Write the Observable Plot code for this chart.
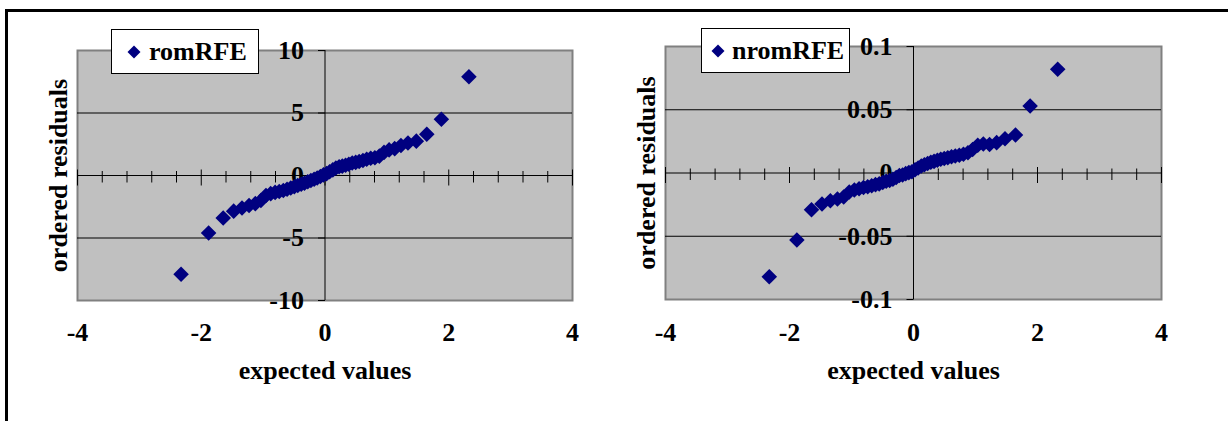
<!DOCTYPE html>
<html><head><meta charset="utf-8">
<script src="https://cdn.jsdelivr.net/npm/d3@7"></script>
<script src="https://cdn.jsdelivr.net/npm/@observablehq/plot@0.6"></script>
<style>
html,body{margin:0;padding:0;background:#fff;overflow:hidden;}
#wrap{position:relative;width:1228px;height:421px;overflow:hidden;background:#fff;}
#border{position:absolute;left:5px;top:9px;width:1400px;height:600px;border-left:3px solid #000;border-top:3px solid #000;}
.panel{position:absolute;top:0;}
.legend{position:absolute;background:#fff;border:1px solid #000;font:bold 26px "Liberation Serif","Times New Roman",serif;color:#000;box-sizing:border-box;}
.legend svg{position:absolute;}
.legend span{position:absolute;top:0;line-height:44px;white-space:nowrap;}
</style></head>
<body>
<div id="wrap">
  <div id="border"></div>
  <div id="left" class="panel" style="left:0px"></div>
  <div id="right" class="panel" style="left:614px"></div>
  <div class="legend" style="left:111px;top:29px;width:148px;height:45px">
    <svg width="14" height="14" style="left:15px;top:15px"><polygon points="7,0.5 13.5,7 7,13.5 0.5,7" fill="#000080"/></svg>
    <span style="left:37px">romRFE</span>
  </div>
  <div class="legend" style="left:701px;top:28px;width:149px;height:45px">
    <svg width="14" height="14" style="left:9px;top:15px"><polygon points="7,0.5 13.5,7 7,13.5 0.5,7" fill="#000080"/></svg>
    <span style="left:30px">nromRFE</span>
  </div>
</div>
<script>
// expected normal quantiles (x)
const expected = [-2.326,-1.881,-1.645,-1.476,-1.341,-1.227,-1.126,-1.036,-0.954,-0.878,-0.806,-0.739,-0.674,-0.613,-0.553,-0.496,-0.440,-0.385,-0.332,-0.279,-0.228,-0.176,-0.126,-0.075,-0.025,0.025,0.075,0.126,0.176,0.228,0.279,0.332,0.385,0.440,0.496,0.553,0.613,0.674,0.739,0.806,0.878,0.954,1.036,1.126,1.227,1.341,1.476,1.645,1.881,2.326];
// ordered residuals, romRFE
const romRFE = [-7.9,-4.6,-3.4,-2.85,-2.6,-2.4,-2.25,-2.0,-1.6,-1.45,-1.35,-1.28,-1.2,-1.1,-1.0,-0.9,-0.8,-0.7,-0.62,-0.5,-0.4,-0.3,-0.2,-0.08,0.05,0.15,0.3,0.45,0.6,0.7,0.75,0.82,0.9,1.0,1.05,1.12,1.2,1.3,1.38,1.42,1.55,1.85,2.05,2.15,2.4,2.6,2.75,3.3,4.5,7.9];
// ordered residuals, nromRFE
const nromRFE = [-0.082,-0.053,-0.029,-0.0245,-0.022,-0.0205,-0.019,-0.015,-0.0135,-0.0125,-0.0115,-0.0108,-0.010,-0.0092,-0.0086,-0.0075,-0.0065,-0.006,-0.005,-0.0035,-0.002,-0.0015,-0.0005,0.0003,0.001,0.0025,0.004,0.0055,0.0065,0.0075,0.0085,0.0092,0.010,0.0108,0.0115,0.012,0.0128,0.0135,0.014,0.0148,0.016,0.0185,0.022,0.023,0.0225,0.024,0.027,0.030,0.053,0.082];

const xMajorTicks = [-4, -2, 0, 2, 4];
const xMinorTicks = [-3.6, -3.2, -2.8, -2.4, -1.6, -1.2, -0.8, -0.4, 0.4, 0.8, 1.2, 1.6, 2.4, 2.8, 3.2, 3.6];
const yTicksLeft = [-10, -5, 0, 5, 10];
const yGridLeft = [-5, 5];
const yTicksRight = [-0.1, -0.05, 0, 0.05, 0.1];
const yGridRight = [-0.05, 0.05];

const navy = "#000080";
const sym = (x1, y1, x2, y2) => ({draw(ctx) { ctx.moveTo(x1, y1); ctx.lineTo(x2, y2); }});
const yTickSym = sym(-7, 0, 0, 0);
const xMinorSym = sym(0, -4.5, 0, 7);
const xMajorSym = sym(0, -6, 0, 10);

function panel({values, yTicks, yGrid, ml, mr, mt, mb, bottomDy}) {
  const pts = expected.map((e, i) => ({e, v: values[i]}));
  return Plot.plot({
    width: 614, height: 421,
    marginLeft: ml, marginRight: mr, marginTop: mt, marginBottom: mb,
    x: {domain: [xMajorTicks[0], xMajorTicks[xMajorTicks.length - 1]], axis: null},
    y: {domain: [yTicks[0], yTicks[yTicks.length - 1]], axis: null},
    style: {fontFamily: '"Liberation Serif","Times New Roman",serif', fontSize: "26px", fontWeight: "bold", background: "transparent", overflow: "visible", color: "#000"},
    marks: [
      Plot.frame({fill: "#c0c0c0", stroke: "#808080", strokeWidth: 2}),
      Plot.ruleY(yGrid, {stroke: "#000", strokeWidth: 1}),
      Plot.ruleX([0], {stroke: "#000", strokeWidth: 1}),
      Plot.ruleY([0], {stroke: "#000", strokeWidth: 1}),
      Plot.dot(yTicks, {x: 0, y: d => d, symbol: yTickSym, fill: "none", stroke: "#000", strokeWidth: 1}),
      Plot.dot(xMinorTicks, {x: d => d, y: 0, symbol: xMinorSym, fill: "none", stroke: "#000", strokeWidth: 1}),
      Plot.dot(xMajorTicks, {x: d => d, y: 0, symbol: xMajorSym, fill: "none", stroke: "#000", strokeWidth: 1}),
      Plot.text(yTicks, {x: 0, y: d => d, text: d => String(d), dx: -21, textAnchor: "end", fill: "#000"}),
      Plot.dot(pts, {x: "e", y: "v", symbol: "diamond2", r: 7, fill: navy, stroke: "none"}),
      Plot.text(xMajorTicks, {x: d => d, frameAnchor: "bottom", dy: bottomDy, text: d => String(d), fill: "#000"}),
      Plot.text(["expected values"], {frameAnchor: "bottom", dy: bottomDy + 38, fill: "#000"}),
      Plot.text(["ordered residuals"], {frameAnchor: "left", rotate: -90, dx: -19, textAnchor: "middle", fill: "#000"})
    ]
  });
}

document.getElementById("left").append(panel({values: romRFE, yTicks: yTicksLeft, yGrid: yGridLeft, ml: 77, mr: 42, mt: 50, mb: 121, bottomDy: 40}));
document.getElementById("right").append(panel({values: nromRFE, yTicks: yTicksRight, yGrid: yGridRight, ml: 51, mr: 67, mt: 46, mb: 122, bottomDy: 41}));
</script>
</body></html>
